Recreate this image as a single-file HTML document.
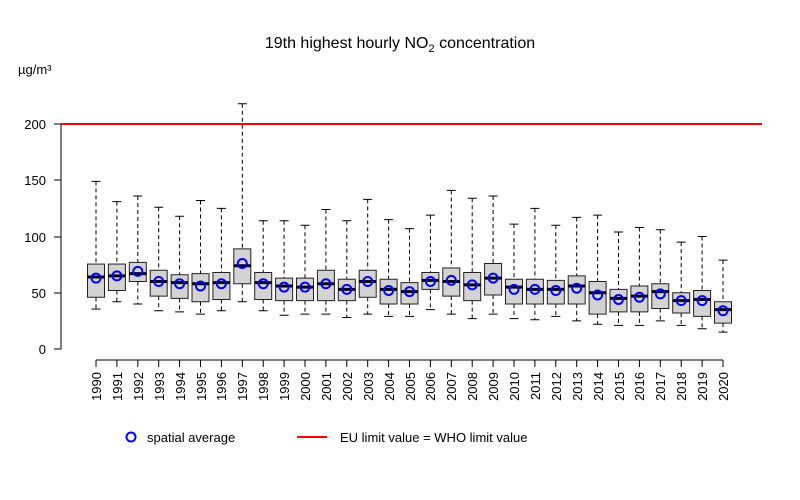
<!DOCTYPE html>
<html><head><meta charset="utf-8"><style>body{margin:0;background:#fff}svg{display:block;font-family:"Liberation Sans",sans-serif}</style></head>
<body>
<svg id="s" width="800" height="500" xmlns="http://www.w3.org/2000/svg">
<rect width="800" height="500" fill="#fff"/>
<text x="400" y="48" font-size="16" text-anchor="middle">19th highest hourly NO<tspan font-size="11" dy="4">2</tspan><tspan dy="-4"> concentration</tspan></text>
<text x="18" y="74" font-size="13">µg/m³</text>
<g stroke="#000" stroke-width="1">
<line x1="61" y1="124" x2="61" y2="349"/>
<line x1="54" y1="124" x2="61" y2="124"/><line x1="54" y1="180" x2="61" y2="180"/><line x1="54" y1="237" x2="61" y2="237"/><line x1="54" y1="293" x2="61" y2="293"/><line x1="54" y1="349" x2="61" y2="349"/>
<line x1="96" y1="360" x2="723" y2="360"/>
</g>
<g font-size="13" text-anchor="end">
<text x="46" y="129">200</text><text x="46" y="185">150</text><text x="46" y="242">100</text><text x="46" y="298">50</text><text x="46" y="354">0</text>
</g>
<line x1="61" y1="124" x2="762" y2="124" stroke="#f00" stroke-width="2"/>
<g id="boxes"></g>
<g font-size="13" text-anchor="end" id="yl">
<text transform="translate(101,372) rotate(-90)">1990</text><text transform="translate(122,372) rotate(-90)">1991</text><text transform="translate(143,372) rotate(-90)">1992</text><text transform="translate(164,372) rotate(-90)">1993</text><text transform="translate(185,372) rotate(-90)">1994</text><text transform="translate(206,372) rotate(-90)">1995</text><text transform="translate(226,372) rotate(-90)">1996</text><text transform="translate(247,372) rotate(-90)">1997</text><text transform="translate(268,372) rotate(-90)">1998</text><text transform="translate(289,372) rotate(-90)">1999</text><text transform="translate(310,372) rotate(-90)">2000</text><text transform="translate(331,372) rotate(-90)">2001</text><text transform="translate(352,372) rotate(-90)">2002</text><text transform="translate(373,372) rotate(-90)">2003</text><text transform="translate(394,372) rotate(-90)">2004</text><text transform="translate(415,372) rotate(-90)">2005</text><text transform="translate(435,372) rotate(-90)">2006</text><text transform="translate(456,372) rotate(-90)">2007</text><text transform="translate(477,372) rotate(-90)">2008</text><text transform="translate(498,372) rotate(-90)">2009</text><text transform="translate(519,372) rotate(-90)">2010</text><text transform="translate(540,372) rotate(-90)">2011</text><text transform="translate(561,372) rotate(-90)">2012</text><text transform="translate(582,372) rotate(-90)">2013</text><text transform="translate(603,372) rotate(-90)">2014</text><text transform="translate(624,372) rotate(-90)">2015</text><text transform="translate(644,372) rotate(-90)">2016</text><text transform="translate(665,372) rotate(-90)">2017</text><text transform="translate(686,372) rotate(-90)">2018</text><text transform="translate(707,372) rotate(-90)">2019</text><text transform="translate(728,372) rotate(-90)">2020</text>
</g>
<circle cx="131" cy="437" r="4.5" fill="none" stroke="#00f" stroke-width="2"/>
<text x="147" y="442" font-size="13">spatial average</text>
<line x1="297" y1="437" x2="327" y2="437" stroke="#f00" stroke-width="2"/>
<text x="340" y="442" font-size="13">EU limit value = WHO limit value</text>
</svg>
<script>
var d=[[149,75.5,64,46,35.5,63],[131,75.5,65,52,42,65],[136,77,67,60,40,69],[126,70,60,47,34,60],[118,66,59,45,33,58],[132,67,58,42,31,56],[125,68,59,44,34,58],[218,89,74,58,42,76],[114,68,59,44,34,58],[114,63,56,43,30,55],[110,63,55,43,31,55],[124,70,58,43,31,58],[114,62,53,43,28,53],[133,70,60,46,31,60],[115,62,53,40,29,52],[107,59,51,40,29,51],[119,68,61,53,35,60],[141,72,60,47,31,61],[134,68,57,43,27,57],[136,76,63,48,31,63],[111,62,55,40,27,53],[125,62,53,40,26,53],[110,61,53,40,29,52],[117,65,56,40,25,54],[119,60,50,31,22,48],[104,53,45,33,21,44],[108,56,47,33,21,46],[106,58,51,36,25,49],[95,50,43,32,21,43],[100,52,44,29,18,43],[79,42,35,23,15,34]];
var Y=function(v){return 349-v*1.125};var h='';
d.forEach(function(r,i){var x=96+i*20.9;
h+='<line x1="'+x+'" y1="'+Y(r[0])+'" x2="'+x+'" y2="'+Y(r[1])+'" stroke="#000" stroke-dasharray="4,3"/>';
h+='<line x1="'+x+'" y1="'+Y(r[3])+'" x2="'+x+'" y2="'+Y(r[4])+'" stroke="#000" stroke-dasharray="4,3"/>';
h+='<line x1="'+(x-4.5)+'" y1="'+Y(r[0])+'" x2="'+(x+4.5)+'" y2="'+Y(r[0])+'" stroke="#000"/>';
h+='<line x1="'+(x-4.5)+'" y1="'+Y(r[4])+'" x2="'+(x+4.5)+'" y2="'+Y(r[4])+'" stroke="#000"/>';
h+='<rect x="'+(x-8.5)+'" y="'+Y(r[1])+'" width="17" height="'+(Y(r[3])-Y(r[1]))+'" fill="#d3d3d3" stroke="#222"/>';
h+='<line x1="'+(x-8.5)+'" y1="'+Y(r[2])+'" x2="'+(x+8.5)+'" y2="'+Y(r[2])+'" stroke="#000" stroke-width="3"/>';
h+='<circle cx="'+x+'" cy="'+Y(r[5])+'" r="4.5" fill="none" stroke="#00f" stroke-width="2"/>';
h+='<line x1="'+x+'" y1="360" x2="'+x+'" y2="367" stroke="#000"/>';});
document.getElementById('boxes').innerHTML=h;
</script>
</body></html>
